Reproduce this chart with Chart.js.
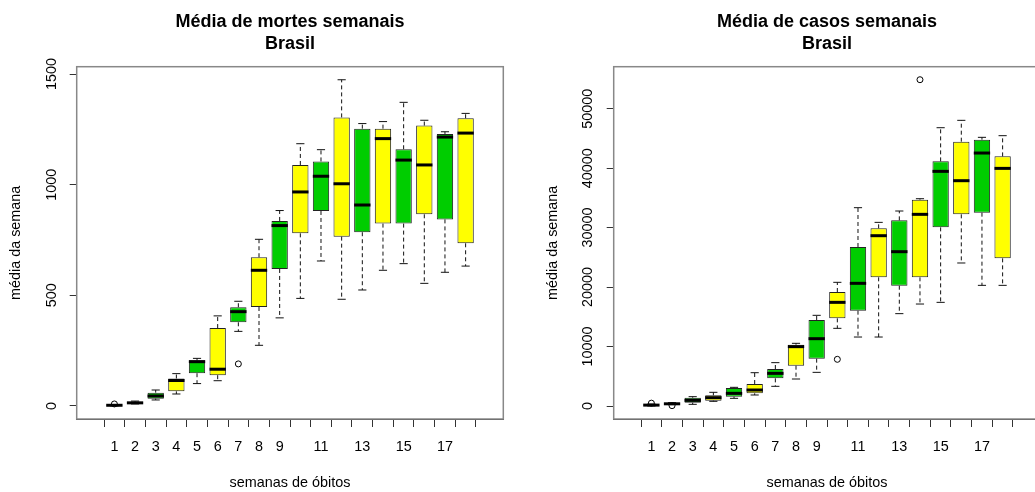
<!DOCTYPE html>
<html>
<head>
<meta charset="utf-8">
<script src="https://cdn.jsdelivr.net/npm/chart.js@4.4.1/dist/chart.umd.min.js"></script>
<style>
  html, body { margin:0; padding:0; background:#fff; overflow:hidden; width:1035px; height:492px; }
  .box { position:absolute; top:0; width:517px; height:492px; }
</style>
</head>
<body>
<div class="box" style="left:0"><canvas id="mortes" width="517" height="492"></canvas></div>
<div class="box" style="left:537px"><canvas id="casos" width="517" height="492"></canvas></div>
<script>
// semanas 1..18
const weeks = [1,2,3,4,5,6,7,8,9,10,11,12,13,14,15,16,17,18];
const xTickLabels = ["1","2","3","4","5","6","7","8","9","","11","","13","","15","","17",""];

// média de mortes semanais
const mortesMin = [0, 9, 27, 54, 101, 114, 337, 274, 398, 486, 655, 482, 524, 613, 643, 554, 604, 632];
const mortesQ1  = [2, 10, 33, 66, 148, 139, 378, 447, 619, 780, 881, 765, 785, 824, 824, 866, 843, 735];
const mortesMed = [3, 14, 45, 115, 200, 166, 426, 613, 815, 967, 1038, 1004, 908, 1208, 1111, 1089, 1215, 1233];
const mortesQ3  = [4, 19, 60, 124, 206, 352, 446, 672, 836, 1089, 1105, 1304, 1253, 1253, 1160, 1267, 1229, 1300];
const mortesMax = [6, 22, 72, 146, 215, 407, 473, 753, 883, 1185, 1158, 1474, 1276, 1285, 1372, 1291, 1239, 1322];
const mortesOutX = [1, 7];
const mortesOutY = [9, 190];
const mortesTicks = [0, 500, 1000, 1500];

// média de casos semanais
const casosMin = [0, 230, 280, 785, 1290, 1850, 3310, 4540, 5660, 13060, 11600, 11600, 15530, 17150, 17430, 24050, 20290, 20290];
const casosQ1  = [80, 260, 560, 900, 1570, 2130, 4650, 6780, 7960, 14740, 16030, 21640, 20230, 21640, 30040, 32230, 32510, 24830];
const casosMed = [150, 370, 950, 1400, 2130, 2690, 5490, 9980, 11320, 17430, 20630, 28640, 25950, 32230, 39460, 37890, 42540, 39960];
const casosQ3  = [230, 480, 1400, 1790, 3030, 3700, 6220, 10310, 14460, 19170, 26740, 29880, 31220, 34700, 41140, 44450, 44780, 41980];
const casosMax = [330, 560, 1570, 2300, 3140, 5600, 7290, 10540, 15250, 20800, 33350, 30880, 32790, 34860, 46800, 48040, 45180, 45460];
const casosOutX = [1, 2, 10, 14];
const casosOutY = [480, 60, 7850, 54870];
const casosTicks = [0, 10000, 20000, 30000, 40000, 50000];

const FONT = "'Liberation Sans', Arial, Helvetica, sans-serif";
const GREEN = "#00CD00", YELLOW = "#FFFF00";

// whiskers, staples and medians, placed with the chart's own scales
const boxExtras = {
  id: "boxExtras",
  afterDatasetsDraw(chart, args, opts) {
    const ctx = chart.ctx, y = chart.scales.y;
    const meta = chart.getDatasetMeta(0);
    ctx.save();
    meta.data.forEach((el, i) => {
      const w = el.width, x = el.x;
      const pMin = y.getPixelForValue(opts.min[i]), pMax = y.getPixelForValue(opts.max[i]);
      const pQ1 = y.getPixelForValue(opts.q1[i]), pQ3 = y.getPixelForValue(opts.q3[i]);
      ctx.strokeStyle = "#111";
      ctx.lineWidth = 1;
      ctx.setLineDash([4, 3]);
      ctx.beginPath();
      ctx.moveTo(x, pQ3); ctx.lineTo(x, pMax);
      ctx.moveTo(x, pQ1); ctx.lineTo(x, pMin);
      ctx.stroke();
      ctx.setLineDash([]);
      ctx.beginPath();
      ctx.moveTo(x - w / 4, pMax); ctx.lineTo(x + w / 4, pMax);
      ctx.moveTo(x - w / 4, pMin); ctx.lineTo(x + w / 4, pMin);
      ctx.stroke();
      const pMed = y.getPixelForValue(opts.med[i]);
      ctx.strokeStyle = "#000";
      ctx.lineWidth = 3;
      ctx.beginPath();
      ctx.moveTo(x - w / 2, pMed); ctx.lineTo(x + w / 2, pMed);
      ctx.stroke();
    });
    ctx.restore();
  }
};

const frame = {
  id: "frame",
  afterDraw(chart) {
    const {ctx, chartArea: a} = chart;
    ctx.save();
    ctx.strokeStyle = "#888";
    ctx.lineWidth = 1.5;
    ctx.strokeRect(a.left, a.top, a.right - a.left, a.bottom - a.top);
    ctx.restore();
  }
};

function makeBoxplot(id, title, q1, med, q3, min, max, outX, outY, yTicks, yMin, yMax, yPad) {
  new Chart(document.getElementById(id), {
    type: "bar",
    data: {
      datasets: [{
        data: weeks.map((w, i) => ({x: w, y: [q1[i], q3[i]]})),
        backgroundColor: weeks.map(w => w % 2 ? GREEN : YELLOW),
        borderColor: "#222",
        borderWidth: 1,
        borderSkipped: false,
        barPercentage: 0.79,
        categoryPercentage: 1
      }, {
        type: "scatter",
        data: outX.map((x, i) => ({x: x, y: outY[i]})),
        pointStyle: "circle",
        pointRadius: 3,
        backgroundColor: "rgba(0,0,0,0)",
        borderColor: "#000",
        borderWidth: 1
      }]
    },
    options: {
      responsive: false,
      animation: false,
      devicePixelRatio: 1,
      layout: { padding: { top: 0, left: 0, right: 13.7, bottom: 0 } },
      plugins: {
        legend: { display: false },
        tooltip: { enabled: false },
        title: {
          display: true,
          fullSize: false,
          text: [title, "Brasil"],
          color: "#000",
          font: { family: FONT, size: 18, weight: "bold", lineHeight: 1.2 },
          padding: { top: 11.5, bottom: 12 }
        },
        boxExtras: { q1, med, q3, min, max }
      },
      scales: {
        x: {
          type: "linear",
          min: -0.25,
          max: 19.25,
          afterBuildTicks: s => { s.ticks = weeks.map(v => ({value: v})); },
          afterFit: s => { s.height = 73; },
          grid: { drawOnChartArea: false, drawTicks: true, tickLength: 8, color: "#333", lineWidth: 1 },
          border: { display: true, color: "#333", width: 1 },
          ticks: {
            color: "#000",
            font: { family: FONT, size: 14.4 },
            padding: 11,
            maxRotation: 0,
            autoSkip: false,
            callback: (v, i) => xTickLabels[i]
          },
          title: {
            display: true,
            text: "semanas de óbitos",
            color: "#000",
            font: { family: FONT, size: 14.4, lineHeight: 1.2 },
            padding: { top: 0, bottom: 0.5 }
          }
        },
        y: {
          min: yMin,
          max: yMax,
          afterBuildTicks: s => { s.ticks = yTicks.map(v => ({value: v})); },
          afterFit: s => { s.width = 76.7; },
          grid: { drawOnChartArea: false, drawTicks: true, tickLength: 7, color: "#333", lineWidth: 1 },
          border: { display: true, color: "#333", width: 1 },
          ticks: {
            color: "#000",
            font: { family: FONT, size: 14.4 },
            minRotation: 90,
            maxRotation: 90,
            crossAlign: "center",
            padding: yPad,
            callback: v => String(v)
          },
          title: {
            display: true,
            text: "média da semana",
            color: "#000",
            font: { family: FONT, size: 14.4, lineHeight: 1.2 },
            padding: { top: 7.4, bottom: 0 }
          }
        }
      }
    },
    plugins: [boxExtras, frame]
  });
}

makeBoxplot("mortes", "Média de mortes semanais",
  mortesQ1, mortesMed, mortesQ3, mortesMin, mortesMax, mortesOutX, mortesOutY, mortesTicks, -59, 1533, 1.7);
makeBoxplot("casos", "Média de casos semanais",
  casosQ1, casosMed, casosQ3, casosMin, casosMax, casosOutX, casosOutY, casosTicks, -2186, 57059, -1.7);
</script>
</body>
</html>
